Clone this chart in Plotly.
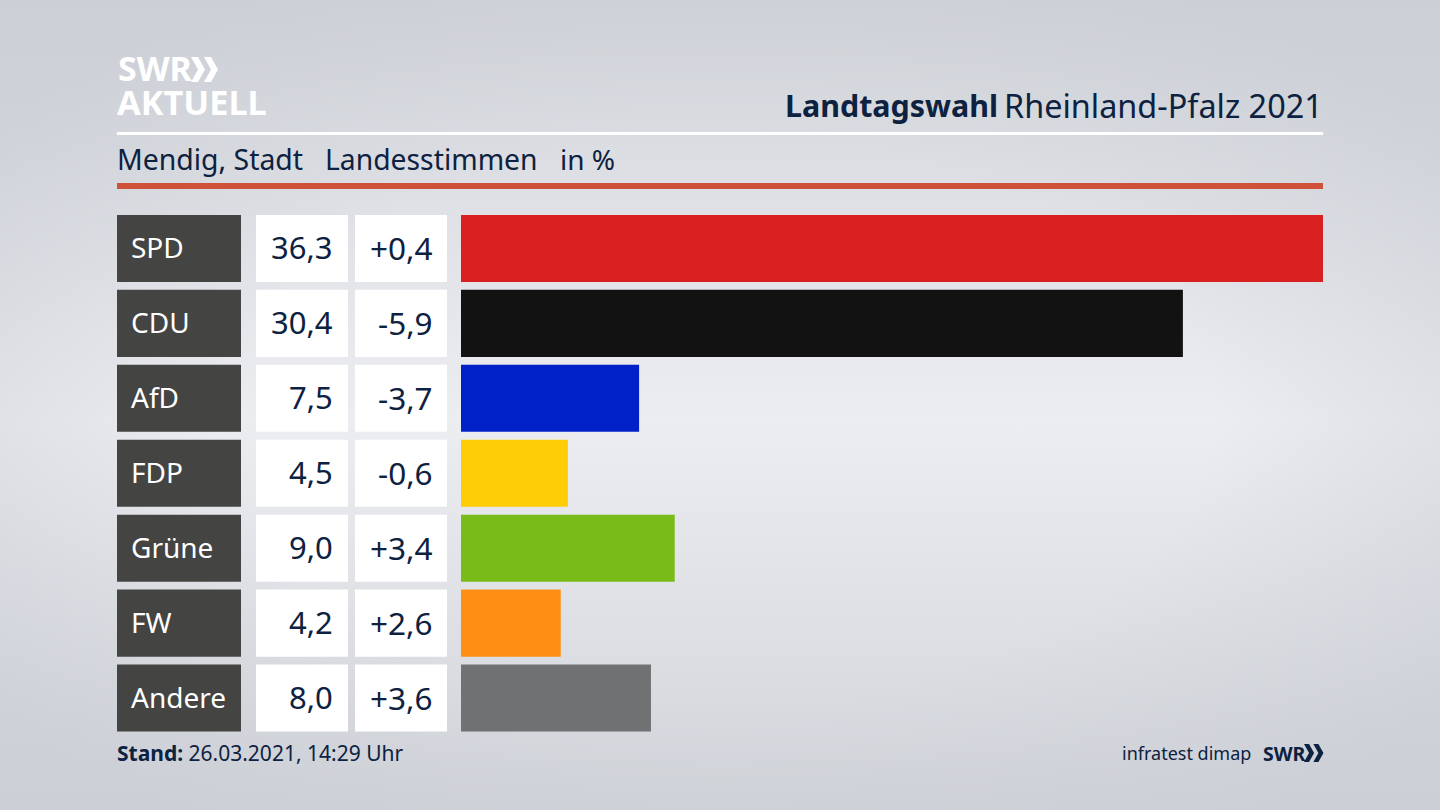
import base64
import plotly.graph_objects as go

# Werte aus der Grafik
parties = ["SPD", "CDU", "AfD", "FDP", "Grüne", "FW", "Andere"]
shares = [36.3, 30.4, 7.5, 4.5, 9.0, 4.2, 8.0]
changes = [0.4, -5.9, -3.7, -0.6, 3.4, 2.6, 3.6]
colors = ["#d7201f", "#121212", "#0021c8", "#ffcd07", "#79bc19", "#ff8f14", "#707173"]

W, H = 1440, 810
NAVY = "#0d2140"
FONT = "Noto Sans"


def fmt(v, sign=False):
    s = f"{v:+.1f}" if sign else f"{v:.1f}"
    return s.replace(".", ",")


def px(x):
    return x / W


def py(y):
    return 1 - y / H


def chevrons(x, y, h, color):
    # zwei Winkel wie im SWR-Logo
    t = h * 0.28
    depth = h * 0.28
    out = []
    for dx in (0, h * 0.52):
        x0 = x + dx
        d = (f"M {px(x0)} {py(y)} L {px(x0 + t)} {py(y)} L {px(x0 + t + depth)} {py(y + h / 2)} "
             f"L {px(x0 + t)} {py(y + h)} L {px(x0)} {py(y + h)} L {px(x0 + depth)} {py(y + h / 2)} Z")
        out.append(dict(type="path", xref="paper", yref="paper", path=d,
                        fillcolor=color, line_width=0, layer="above"))
    return out


bg_svg = f"""<svg xmlns="http://www.w3.org/2000/svg" width="{W}" height="{H}">
<defs>
<linearGradient id="v" x1="0" y1="0" x2="0" y2="1">
<stop offset="0%" stop-color="#d2d5da"/><stop offset="52%" stop-color="#ecedf1"/>
<stop offset="100%" stop-color="#d1d4d9"/></linearGradient>
<radialGradient id="g" cx="50%" cy="52%" r="62%">
<stop offset="55%" stop-color="#c8ccd3" stop-opacity="0"/>
<stop offset="100%" stop-color="#c8ccd3" stop-opacity="0.6"/></radialGradient>
</defs>
<rect width="{W}" height="{H}" fill="url(#v)"/>
<rect width="{W}" height="{H}" fill="url(#g)"/></svg>"""
bg_uri = "data:image/svg+xml;base64," + base64.b64encode(bg_svg.encode()).decode()

fig = go.Figure()

# Tabellenspalten: je ein Balken ueber die ganze Spaltenbreite
columns = [("x2", "#444442", 117, 241), ("x3", "#ffffff", 256, 348), ("x4", "#ffffff", 355, 447)]
for axis, color, _, _ in columns:
    fig.add_trace(go.Bar(x=[1] * len(parties), y=parties, orientation="h", xaxis=axis, yaxis="y",
                         marker=dict(color=color, line_width=0), width=0.895, hoverinfo="skip"))

fig.add_trace(go.Bar(x=shares, y=parties, orientation="h", xaxis="x", yaxis="y",
                     marker=dict(color=colors, line_width=0), width=0.895,
                     hovertemplate="%{y}: %{x}%<extra></extra>"))

annotations = []
for party, share, change in zip(parties, shares, changes):
    annotations.append(dict(x=px(129), y=party, xref="paper", yref="y", text=party, showarrow=False,
                            xanchor="left", yshift=1, font=dict(size=28, color="#ffffff", family=FONT)))
    annotations.append(dict(x=px(335), y=party, xref="paper", yref="y", text=fmt(share), showarrow=False,
                            xanchor="right", yshift=1, font=dict(size=31, color=NAVY, family=FONT)))
    annotations.append(dict(x=px(435), y=party, xref="paper", yref="y", text=fmt(change, True), showarrow=False,
                            xanchor="right", yshift=1, font=dict(size=31.5, color=NAVY, family=FONT)))


def label(x, y, text, size, anchor="left", color=NAVY):
    annotations.append(dict(x=px(x), y=py(y), xref="paper", yref="paper", text=text, showarrow=False,
                            xanchor=anchor, yanchor="middle", font=dict(size=size, color=color, family=FONT)))


label(116, 68, "<b>SWR</b>", 34, color="#ffffff")
label(115, 102, "<b>AKTUELL</b>", 34.3, color="#ffffff")
label(783, 105, "<b>Landtagswahl</b>", 30.4)
label(1325, 105, "Rheinland-Pfalz 2021", 32.4, "right")
label(115, 159, "Mendig, Stadt", 28.4)
label(323, 159, "Landesstimmen", 28.3)
label(558, 159, "in %", 28)
label(115, 753, "<b>Stand:</b> 26.03.2021, 14:29 Uhr", 21)
label(1253, 753, "infratest dimap", 18, "right")
label(1261, 753, "<b>SWR</b>", 19.5)

shapes = [
    dict(type="rect", xref="paper", yref="paper", x0=px(117), x1=px(1323), y0=py(135), y1=py(132),
         fillcolor="#ffffff", line_width=0),
    dict(type="rect", xref="paper", yref="paper", x0=px(117), x1=px(1323), y0=py(189), y1=py(183),
         fillcolor="#cf5139", line_width=0),
]
shapes += chevrons(191, 57, 25, "#ffffff")
shapes += chevrons(1304, 744, 18, NAVY)

layout_axes = {"xaxis": dict(domain=[px(461), px(1323)], range=[0, 36.3], visible=False, fixedrange=True)}
for i, (axis, _, left, right) in enumerate(columns):
    layout_axes[f"xaxis{i + 2}"] = dict(domain=[px(left), px(right)], range=[0, 1], visible=False,
                                        anchor="y", fixedrange=True)

fig.update_layout(
    width=W,
    height=H,
    margin=dict(l=0, r=0, t=0, b=0),
    paper_bgcolor="#e4e6ea",
    plot_bgcolor="rgba(0,0,0,0)",
    showlegend=False,
    barmode="overlay",
    yaxis=dict(domain=[py(735.5), py(211)], autorange="reversed", visible=False, fixedrange=True),
    annotations=annotations,
    shapes=shapes,
    images=[dict(source=bg_uri, xref="paper", yref="paper", x=0, y=1, sizex=1, sizey=1,
                 sizing="stretch", layer="below", xanchor="left", yanchor="top")],
    **layout_axes,
)

fig.write_html("out.html", config={"displayModeBar": False},
               post_script="document.body.style.margin='0';")
